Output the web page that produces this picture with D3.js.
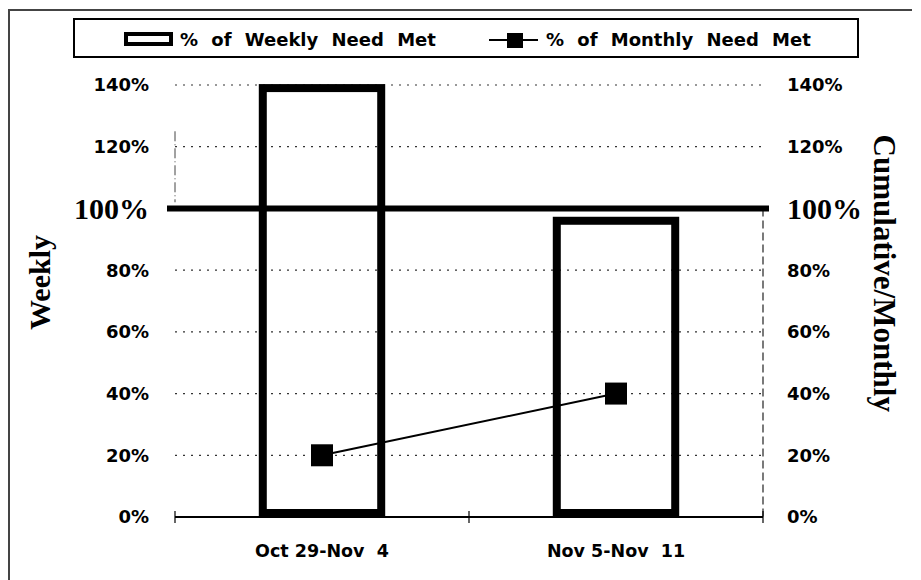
<!DOCTYPE html>
<html>
<head>
<meta charset="utf-8">
<script src="https://cdn.jsdelivr.net/npm/d3@7"></script>
<style>
  body { margin: 0; background: #fff; }
  svg { display: block; }
  text { font-family: "DejaVu Sans", Arial, sans-serif; font-weight: bold; fill: #000; }
  .serif { font-family: "Liberation Serif", "Times New Roman", serif; }
</style>
</head>
<body>
<svg id="chart" width="921" height="580"></svg>
<script>
// data
const categories = ["Oct 29-Nov  4", "Nov 5-Nov  11"];
const weeklyNeedMet = [139, 96];
const monthlyNeedMet = [20, 40];
const yTicks = [0, 20, 40, 60, 80, 100, 120, 140];
const gridTicks = [20, 40, 60, 80, 120, 140];
const legendLabels = ["% of Weekly Need Met", "% of Monthly Need Met"];

const margin = { top: 85, bottom: 63, left: 175, right: 158 };
const width = 921, height = 580;

const svg = d3.select("#chart");

// outer frame (only top and left edges show)
svg.append("path")
  .attr("d", `M9,580 L9,10 L912,10`)
  .attr("fill", "none")
  .attr("stroke", "#444")
  .attr("stroke-width", 2);

const x = d3.scaleBand()
  .domain(categories)
  .range([margin.left, width - margin.right]);

const y = d3.scaleLinear()
  .domain([0, 140])
  .range([height - margin.bottom, margin.top]);

// same scale on the right for the cumulative series
const y2 = y.copy();

const barW = x.bandwidth() * 0.43;

// dotted gridlines
svg.append("g")
  .selectAll("line")
  .data(gridTicks)
  .join("line")
  .attr("x1", x.range()[0])
  .attr("x2", x.range()[1])
  .attr("y1", d => y(d))
  .attr("y2", d => y(d))
  .attr("stroke", "#333")
  .attr("stroke-width", 1.2)
  .attr("stroke-dasharray", "2,6");

// right axis line, dashed like the scan
svg.append("line")
  .attr("x1", x.range()[1]).attr("x2", x.range()[1])
  .attr("y1", y(100)).attr("y2", y(0))
  .attr("stroke", "#222")
  .attr("stroke-width", 1.2)
  .attr("stroke-dasharray", "8,4");

// left axis
svg.append("line")
  .attr("x1", x.range()[0]).attr("x2", x.range()[0])
  .attr("y1", y(125)).attr("y2", y(102))
  .attr("stroke", "#444")
  .attr("stroke-width", 1)
  .attr("stroke-dasharray", "10,3,1,3");

// bars (hollow with thick outline)
svg.append("g")
  .selectAll("rect")
  .data(categories)
  .join("rect")
  .attr("x", (d, i) => x(d) + x.bandwidth() / 2 - barW / 2 + 4)
  .attr("y", (d, i) => y(weeklyNeedMet[i]))
  .attr("width", barW - 8)
  .attr("height", (d, i) => y(0) - y(weeklyNeedMet[i]) - 4)
  .attr("fill", "none")
  .attr("stroke", "#000")
  .attr("stroke-width", 8);

// 100% reference line
svg.append("line")
  .attr("x1", x.range()[0] - 8)
  .attr("x2", x.range()[1] + 6)
  .attr("y1", y(100))
  .attr("y2", y(100))
  .attr("stroke", "#000")
  .attr("stroke-width", 6);

// x axis
const xAxis = svg.append("g");
xAxis.append("line")
  .attr("x1", x.range()[0]).attr("x2", x.range()[1])
  .attr("y1", y(0)).attr("y2", y(0))
  .attr("stroke", "#000")
  .attr("stroke-width", 2);
xAxis.selectAll(".tick")
  .data(x.range().concat([x(categories[1])]))
  .join("line")
  .attr("class", "tick")
  .attr("x1", d => d).attr("x2", d => d)
  .attr("y1", y(0) - 6).attr("y2", y(0) + 6)
  .attr("stroke", "#000")
  .attr("stroke-width", 1.2);
xAxis.selectAll("text")
  .data(categories)
  .join("text")
  .attr("x", d => x(d) + x.bandwidth() / 2)
  .attr("y", y(0) + 40)
  .attr("text-anchor", "middle")
  .style("white-space", "pre")
  .attr("font-size", 17.5)
  .text(d => d);

// y tick labels on both sides
function tickLabels(scale, xPos, anchor) {
  svg.append("g")
    .selectAll("text")
    .data(yTicks)
    .join("text")
    .attr("class", d => d === 100 ? "serif" : null)
    .attr("x", xPos)
    .attr("y", d => scale(d))
    .attr("dy", d => d === 100 ? "0.34em" : "0.36em")
    .attr("text-anchor", anchor)
    .attr("font-size", d => d === 100 ? 30 : 18)
    .text(d => d + "%");
}
tickLabels(y, 149, "end");
tickLabels(y2, x.range()[1] + 24, "start");

// axis titles
svg.append("text")
  .attr("class", "serif")
  .attr("transform", `translate(50, ${y(76)}) rotate(-90)`)
  .attr("text-anchor", "middle")
  .attr("font-size", 30)
  .text("Weekly");

svg.append("text")
  .attr("class", "serif")
  .attr("transform", `translate(874, ${y(79)}) rotate(90)`)
  .attr("text-anchor", "middle")
  .attr("font-size", 31)
  .text("Cumulative/Monthly");

// monthly line with square markers
const line = d3.line()
  .x((d, i) => x(categories[i]) + x.bandwidth() / 2)
  .y(d => y2(d));

svg.append("path")
  .datum(monthlyNeedMet)
  .attr("d", line)
  .attr("fill", "none")
  .attr("stroke", "#000")
  .attr("stroke-width", 2);

svg.append("g")
  .selectAll("rect")
  .data(monthlyNeedMet)
  .join("rect")
  .attr("x", (d, i) => x(categories[i]) + x.bandwidth() / 2 - 11)
  .attr("y", d => y2(d) - 11)
  .attr("width", 22)
  .attr("height", 22)
  .attr("fill", "#000");

// legend
const legend = svg.append("g");
legend.append("rect")
  .attr("x", 74).attr("y", 19)
  .attr("width", 784).attr("height", 38)
  .attr("fill", "#fff")
  .attr("stroke", "#000")
  .attr("stroke-width", 2);

legend.append("rect")
  .attr("x", 126).attr("y", 34)
  .attr("width", 45).attr("height", 10)
  .attr("fill", "none")
  .attr("stroke", "#000")
  .attr("stroke-width", 4);

legend.append("line")
  .attr("x1", 489).attr("x2", 538)
  .attr("y1", 40).attr("y2", 40)
  .attr("stroke", "#000")
  .attr("stroke-width", 2);
legend.append("rect")
  .attr("x", 507).attr("y", 33)
  .attr("width", 16).attr("height", 15)
  .attr("fill", "#000");

legend.selectAll(".lab")
  .data(legendLabels)
  .join("text")
  .attr("class", "lab")
  .attr("x", (d, i) => i === 0 ? 180 : 546)
  .attr("y", 40)
  .attr("dy", "0.36em")
  .attr("font-size", 18)
  .attr("word-spacing", 7)
  .text(d => d);
</script>
</body>
</html>
